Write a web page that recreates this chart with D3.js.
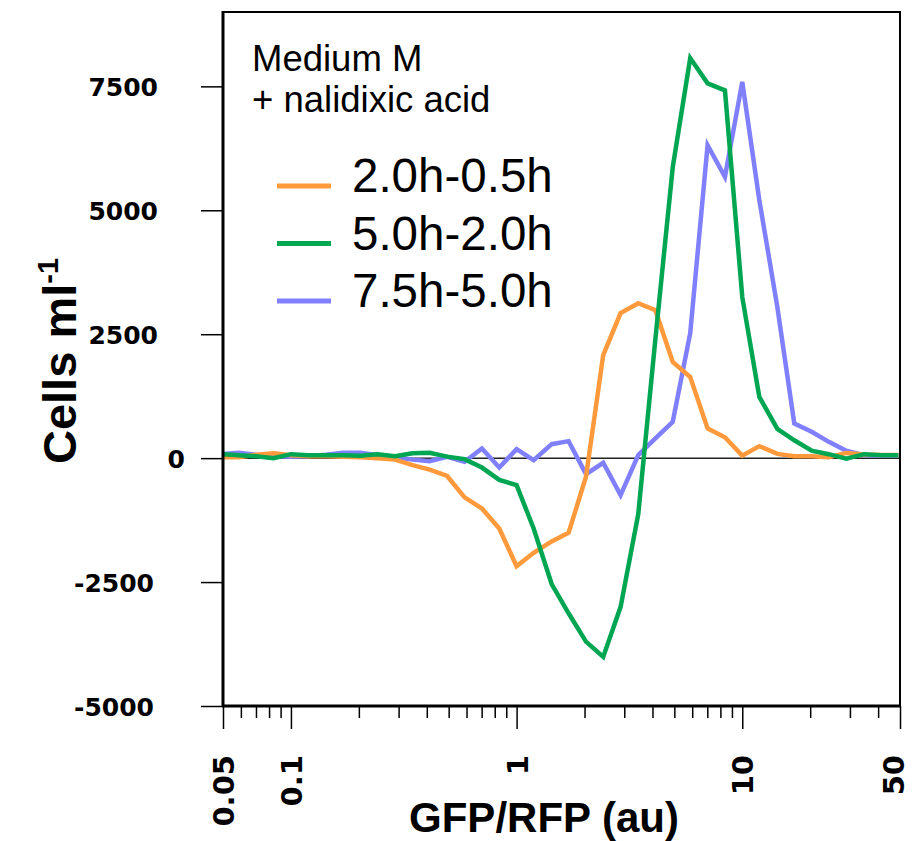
<!DOCTYPE html>
<html>
<head>
<meta charset="utf-8">
<script src="https://cdn.jsdelivr.net/npm/d3@7"></script>
<style>
  body { margin: 0; background: #fff; }
  svg { display: block; }
  .tick text { font-family: "DejaVu Sans", Verdana, sans-serif; font-weight: bold; font-size: 25px; fill: #000; }
  .x-major .tick text { font-size: 29px; }
  .axis path { display: none; }
  .axis line { stroke: #000; stroke-width: 1.5px; }
</style>
</head>
<body>
<script>
// GFP/RFP bins (au), 13 per decade
const ratio = [0.0492, 0.0588, 0.0702, 0.0838, 0.1, 0.119, 0.143, 0.170, 0.203, 0.242,
  0.289, 0.346, 0.412, 0.492, 0.588, 0.702, 0.838, 1, 1.19, 1.43,
  1.70, 2.03, 2.42, 2.89, 3.46, 4.12, 4.92, 5.88, 7.02, 8.38,
  10, 11.9, 14.3, 17.0, 20.3, 24.2, 28.9, 34.6, 41.2, 49.2];

const d2_05 = [20, 20, 70, 100, 60, 40, 40, 30, 20, 0,
  -30, -140, -230, -360, -790, -1015, -1420, -2180, -1910, -1680,
  -1505, -375, 2080, 2925, 3125, 2985, 1940, 1635, 600, 420,
  50, 242, 85, 40, 40, 20, 105, 75, 65, 65];

const d5_2 = [80, 60, 40, 0, 80, 60, 60, 60, 50, 80,
  40, 100, 110, 30, -20, -190, -440, -545, -1420, -2540,
  -3130, -3700, -4010, -3000, -1130, 2400, 5870, 8070, 7560, 7420,
  3250, 1235, 590, 360, 150, 80, -10, 80, 60, 60];

const d75_5 = [80, 110, 70, 40, 30, 40, 70, 110, 110, 60,
  20, -30, -60, 27, -74, 195, -188, 181, -40, 282,
  343, -323, -94, -746, 60, 400, 733, 2521, 6313, 5674,
  7590, 5204, 3052, 700, 531, 329, 148, 60, 50, 50];

const seriesNames = ["2.0h-0.5h", "5.0h-2.0h", "7.5h-5.0h"];
const seriesColors = ["#ff9a3c", "#00a651", "#8080ff"];
const seriesValues = [d2_05, d5_2, d75_5];

const xMajor = [0.05, 0.1, 1, 10, 50];
const xMinor = [0.06, 0.07, 0.08, 0.09, 0.2, 0.3, 0.4, 0.5, 0.6, 0.7, 0.8, 0.9,
  2, 3, 4, 5, 6, 7, 8, 9, 20, 30, 40];
const yTicks = [-5000, -2500, 0, 2500, 5000, 7500];

const W = 912, H = 841;
const pl = 223, pr = 900, pt = 12, pb = 706;

const svg = d3.select("body").append("svg").attr("width", W).attr("height", H);

const x = d3.scaleLog().domain([0.05, 50]).range([pl, pr]);
const y = d3.scaleLinear().domain([-5000, 9000]).range([pb, pt]);

svg.append("clipPath").attr("id", "plot")
  .append("rect").attr("x", pl).attr("y", pt).attr("width", pr - pl).attr("height", pb - pt);

// zero line
svg.append("line")
  .attr("x1", pl).attr("x2", pr)
  .attr("y1", y(0)).attr("y2", y(0))
  .attr("stroke", "#222").attr("stroke-width", 1.5);

const line = d3.line().x(d => x(d[0])).y(d => y(d[1]));

// draw blue, orange, green (green on top)
[2, 0, 1].forEach(i => {
  svg.append("path")
    .datum(ratio.map((r, j) => [r, seriesValues[i][j]]))
    .attr("clip-path", "url(#plot)")
    .attr("fill", "none")
    .attr("stroke", seriesColors[i])
    .attr("stroke-width", 4.5)
    .attr("d", line);
});

// frame
svg.append("rect")
  .attr("x", pl).attr("y", pt).attr("width", pr - pl).attr("height", pb - pt)
  .attr("fill", "none").attr("stroke", "#000").attr("stroke-width", 2);
svg.append("line").attr("x1", pl).attr("x2", pl).attr("y1", pt - 1).attr("y2", pb + 1)
  .attr("stroke", "#000").attr("stroke-width", 3);
svg.append("line").attr("x1", pl - 1).attr("x2", pr + 1).attr("y1", pb).attr("y2", pb)
  .attr("stroke", "#000").attr("stroke-width", 3);

// y axis
const yAxis = svg.append("g").attr("class", "axis")
  .attr("transform", `translate(${pl},0)`)
  .call(d3.axisLeft(y).tickValues(yTicks).tickSize(22).tickFormat(d => String(d)));
yAxis.selectAll(".tick text")
  .attr("x", d => d === 0 ? -38 : (d < 0 ? -69 : -65))
  .attr("dy", "0.36em");

// x axis, minor then major
svg.append("g").attr("class", "axis")
  .attr("transform", `translate(0,${pb})`)
  .call(d3.axisBottom(x).tickValues(xMinor).tickSize(12).tickFormat(""));
const xAxis = svg.append("g").attr("class", "axis x-major")
  .attr("transform", `translate(0,${pb})`)
  .call(d3.axisBottom(x).tickValues(xMajor).tickSize(23).tickFormat(d => String(d)));
xAxis.selectAll(".tick text")
  .attr("transform", "rotate(-90)")
  .attr("text-anchor", "end")
  .attr("x", -49)
  .attr("y", 0)
  .attr("dy", d => d === 50 ? "0.12em" : "0.36em"); // keep last label inside the page

// axis titles
svg.append("text")
  .attr("x", 544).attr("y", 832)
  .attr("text-anchor", "middle")
  .style("font-family", "Liberation Sans, Arial, sans-serif")
  .style("font-weight", "bold").style("font-size", "42px")
  .text("GFP/RFP (au)");

const yt = svg.append("text")
  .attr("transform", "translate(76,361) rotate(-90)")
  .attr("text-anchor", "middle")
  .style("font-family", "Liberation Sans, Arial, sans-serif")
  .style("font-weight", "bold").style("font-size", "47px");
yt.append("tspan").text("Cells ml");
yt.append("tspan").attr("dy", -18).style("font-size", "29px").text("-1");

// annotation + legend
const note = svg.append("g")
  .style("font-family", "Liberation Sans, Arial, sans-serif");
note.append("text").attr("x", 252).attr("y", 71).style("font-size", "36.5px").text("Medium M");
note.append("text").attr("x", 252).attr("y", 112).style("font-size", "36.5px").text("+ nalidixic acid");

const legend = svg.append("g")
  .style("font-family", "Liberation Sans, Arial, sans-serif");
seriesNames.forEach((name, i) => {
  const by = 192 + i * 57.5;
  legend.append("line")
    .attr("x1", 277).attr("x2", 331)
    .attr("y1", by - 6).attr("y2", by - 6)
    .attr("stroke", seriesColors[i]).attr("stroke-width", 5);
  legend.append("text").attr("x", 352).attr("y", by)
    .style("font-size", "47.5px").text(name);
});
</script>
</body>
</html>
